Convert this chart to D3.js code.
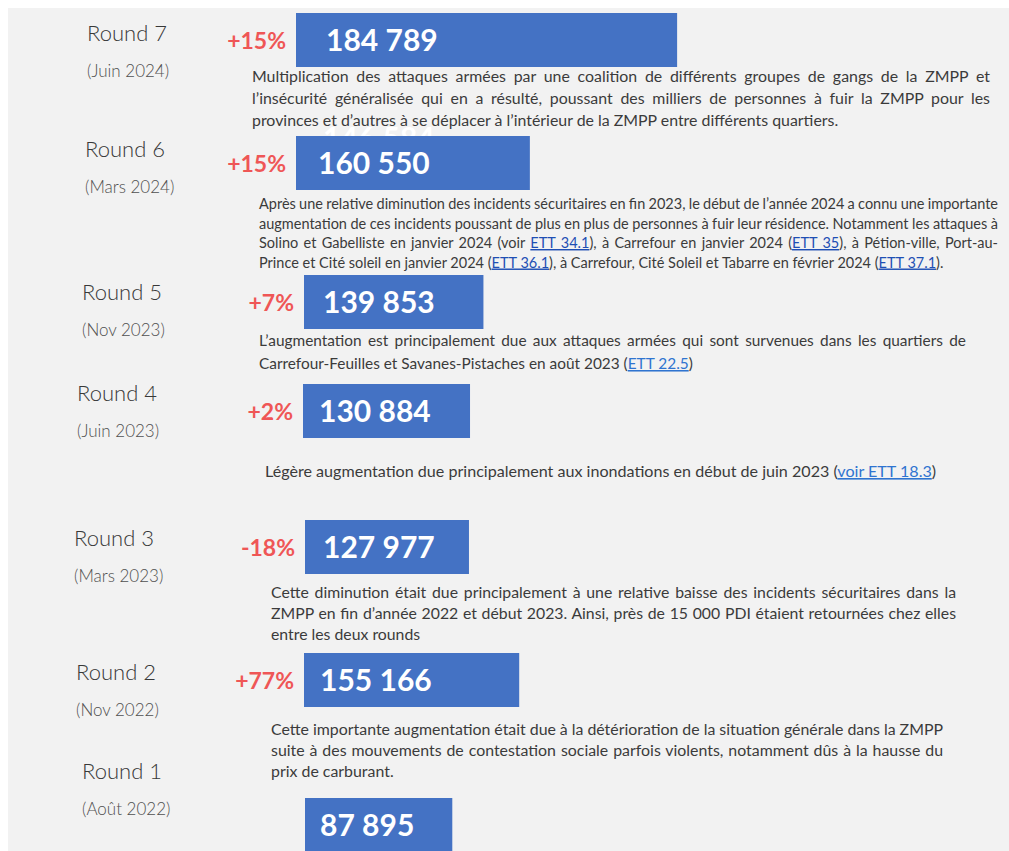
<!DOCTYPE html>
<html>
<head>
<meta charset="utf-8">
<script src="https://cdn.jsdelivr.net/npm/d3@7"></script>
<style>
  body { margin: 0; background: #fff; }
  svg { display: block; font-family: Lato, "Open Sans", sans-serif; }
</style>
</head>
<body>
<div id="chart"></div>
<script>
// PDI (personnes déplacées internes) par round, du plus récent au plus ancien
var rounds = ["Round 7", "Round 6", "Round 5", "Round 4", "Round 3", "Round 2", "Round 1"];
var periods = ["(Juin 2024)", "(Mars 2024)", "(Nov 2023)", "(Juin 2023)", "(Mars 2023)", "(Nov 2022)", "(Août 2022)"];
var idpCounts = [184789, 160550, 139853, 130884, 127977, 155166, 87895];
var hiddenCount = 146584; // chiffre à moitié caché sous le round 6

// explications ([...] = lien)
var notes = [
  ["Multiplication des attaques armées par une coalition de différents groupes de gangs de la ZMPP et",
   "l’insécurité généralisée qui en a résulté, poussant des milliers de personnes à fuir la ZMPP pour les",
   "provinces et d’autres à se déplacer à l’intérieur de la ZMPP entre différents quartiers."],
  ["Après une relative diminution des incidents sécuritaires en fin 2023, le début de l’année 2024 a connu une importante",
   "augmentation de ces incidents poussant de plus en plus de personnes à fuir leur résidence. Notamment les attaques à",
   "Solino et Gabelliste en janvier 2024 (voir [ETT 34.1]), à Carrefour en janvier 2024 ([ETT 35]), à Pétion-ville, Port-au-",
   "Prince et Cité soleil en janvier 2024 ([ETT 36.1]), à Carrefour, Cité Soleil et Tabarre en février 2024 ([ETT 37.1])."],
  ["L’augmentation est principalement due aux attaques armées qui sont survenues dans les quartiers de",
   "Carrefour-Feuilles et Savanes-Pistaches en août 2023 ([ETT 22.5])"],
  ["Légère augmentation due principalement aux inondations en début de juin 2023 ([voir ETT 18.3])"],
  ["Cette diminution était due principalement à une relative baisse des incidents sécuritaires dans la",
   "ZMPP en fin d’année 2022 et début 2023. Ainsi, près de 15 000 PDI étaient retournées chez elles",
   "entre les deux rounds"],
  ["Cette importante augmentation était due à la détérioration de la situation générale dans la ZMPP",
   "suite à des mouvements de contestation sociale parfois violents, notamment dûs à la hausse du",
   "prix de carburant."],
  []
];

// mise en page (infographie, espacement irrégulier)
var rowTop = [13, 136, 275, 384, 520, 653, 798];
var barX = [296, 296, 304, 303, 305, 304, 305];
var valueDx = [30, 22, 19, 16, 18, 16, 15];
var labelX = [87, 85, 82, 77, 74, 76, 82];
var labelY = [41, 157, 300, 401, 546, 680, 779];
var noteX = [252, 259, 259, 265, 271, 271];
var noteRight = [990, 998, 966, 937, 956, 943];
var noteY = [82, 209, 346, 477, 598, 735];
var noteSize = [15.9, 14.5, 15.4, 16.1, 15.8, 15.9];
var noteLead = [22, 19.5, 23, 22, 21, 21];
var linkColor = ["#1f4fb4", "#1f4fb4", "#2f74d0", "#2f74d0", "#1f4fb4", "#1f4fb4"];

var W = 1009, H = 851;
var barH = 54;

var fr = d3.formatLocale({decimal: ",", thousands: " ", grouping: [3], currency: ["", " €"], minus: "-"});
var fmtNum = fr.format(",d");
var fmtPct = fr.format("+.0%");

var svg = d3.select("#chart").append("svg")
  .attr("width", W)
  .attr("height", H);

svg.append("rect")
  .attr("x", 8).attr("y", 8)
  .attr("width", W - 8).attr("height", H - 8)
  .attr("fill", "#f2f2f2");

// largeur des barres : l'original n'est pas proportionnel, échelle puissance
var widthScale = d3.scalePow().exponent(7)
  .domain([0, 185000])
  .range([146, 383]);

// chiffre fantôme, sous la barre du round 6
svg.append("text")
  .attr("x", 323).attr("y", 149)
  .attr("fill", "#ffffff")
  .attr("font-weight", 700)
  .attr("font-size", 30)
  .text(fmtNum(hiddenCount));

var rows = rounds.map(function(r, i) {
  return {round: r, period: periods[i], value: idpCounts[i],
          prev: i < idpCounts.length - 1 ? idpCounts[i + 1] : null, i: i};
});

var g = svg.selectAll("g.row").data(rows).enter().append("g").attr("class", "row");

g.append("text")
  .attr("x", function(d) { return labelX[d.i]; })
  .attr("y", function(d) { return labelY[d.i]; })
  .attr("fill", "#383838")
  .attr("font-weight", 300)
  .attr("font-size", 22)
  .text(function(d) { return d.round; });

g.append("text")
  .attr("x", function(d) { return labelX[d.i]; })
  .attr("y", function(d) { return labelY[d.i] + 36; })
  .attr("fill", "#505050")
  .attr("font-weight", 300)
  .attr("font-size", 17)
  .text(function(d) { return d.period; });

g.append("rect")
  .attr("x", function(d) { return barX[d.i]; })
  .attr("y", function(d) { return rowTop[d.i]; })
  .attr("width", function(d) { return widthScale(d.value); })
  .attr("height", barH)
  .attr("fill", "#4472c4");

g.append("text")
  .attr("x", function(d) { return barX[d.i] + valueDx[d.i]; })
  .attr("y", function(d) { return rowTop[d.i] + 38; })
  .attr("fill", "#ffffff")
  .attr("font-weight", 700)
  .attr("font-size", 30)
  .text(function(d) { return fmtNum(d.value); });

g.filter(function(d) { return d.prev !== null; })
  .append("text")
  .attr("x", function(d) { return barX[d.i] - 10; })
  .attr("y", function(d) { return rowTop[d.i] + 36; })
  .attr("text-anchor", "end")
  .attr("fill", "#ef5656")
  .attr("font-weight", 700)
  .attr("font-size", 23)
  .text(function(d) { return fmtPct(d.value / d.prev - 1); });

// paragraphes : toutes les lignes sauf la dernière sont justifiées
notes.forEach(function(lines, i) {
  lines.forEach(function(line, k) {
    var t = svg.append("text")
      .attr("x", noteX[i])
      .attr("y", noteY[i] + k * noteLead[i])
      .attr("fill", "#3b3b3b")
      .attr("font-size", noteSize[i])
      .style("white-space", "pre");
    line.split(/(\[[^\]]*\])/).forEach(function(part) {
      if (!part) return;
      var isLink = part[0] === "[";
      var ts = t.append("tspan").text(isLink ? part.slice(1, -1) : part);
      if (isLink) ts.attr("fill", linkColor[i]).style("text-decoration", "underline");
    });
    if (k < lines.length - 1) {
      var w = t.node().getComputedTextLength();
      var n = line.split(" ").length - 1;
      var target = noteRight[i] - noteX[i];
      if (n > 0) t.attr("word-spacing", (target - w) / n);
    }
  });
});
</script>
</body>
</html>
